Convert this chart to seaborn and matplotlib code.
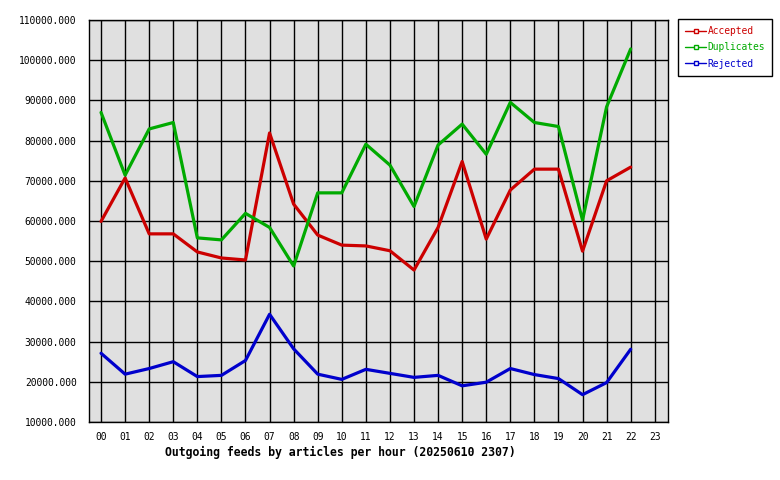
import pandas as pd
import matplotlib
matplotlib.use("Agg")
import matplotlib.pyplot as plt
from matplotlib.lines import Line2D
from matplotlib.ticker import MultipleLocator, FuncFormatter
import seaborn as sns

# data
hours = list(range(23))
hour_labels = [f"{h:02d}" for h in range(24)]
accepted = [59900, 70700, 56800, 56800, 52300, 50800, 50300, 81900, 64200, 56500,
            54000, 53800, 52600, 47800, 58400, 74800, 55500, 67700, 72900, 72900,
            52500, 70000, 73400]
duplicates = [87000, 71400, 82900, 84500, 55800, 55300, 61900, 58400, 48800, 67000,
              67000, 79100, 73900, 63600, 78900, 84100, 76600, 89500, 84500, 83500,
              60200, 88400, 102800]
rejected = [27100, 21900, 23300, 25000, 21300, 21600, 25300, 36800, 28200, 21900,
            20600, 23100, 22100, 21100, 21600, 19000, 19900, 23300, 21800, 20800,
            16800, 19800, 28100]
series_names = ["Accepted", "Duplicates", "Rejected"]
colors = {"Accepted": "#cc0000", "Duplicates": "#00aa00", "Rejected": "#0000cc"}

df = pd.DataFrame({"hour": hours, "Accepted": accepted,
                   "Duplicates": duplicates, "Rejected": rejected})
long_df = df.melt(id_vars="hour", var_name="series", value_name="articles")

sns.set_style("white")
plt.rcParams["font.family"] = ["DejaVu Sans Mono"]
plt.rcParams["text.color"] = "black"
plt.rcParams["xtick.color"] = "black"
plt.rcParams["ytick.color"] = "black"

fig = plt.figure(figsize=(7.8, 4.8), dpi=100)
ax = fig.add_axes([89 / 780, 58 / 480, 579 / 780, 402 / 480])
ax.set_facecolor("#e0e0e0")

sns.lineplot(data=long_df, x="hour", y="articles", hue="series",
             palette=colors, linewidth=2.3, legend=False, ax=ax, zorder=3)

ax.set_xlim(-0.5, 23.55)
ax.set_ylim(10000, 110000)
ax.set_xticks(range(24))
ax.set_xticklabels(hour_labels)
ax.yaxis.set_major_locator(MultipleLocator(10000))
ax.yaxis.set_major_formatter(FuncFormatter(lambda v, p: f"{v:.3f}"))
ax.grid(True, color="black", linewidth=1.0, zorder=1)
ax.set_axisbelow(True)
ax.tick_params(axis="y", length=3, width=1.2, labelsize=6.9, pad=6)
ax.tick_params(axis="x", length=0, labelsize=6.9, pad=7)
for s in ax.spines.values():
    s.set_color("black")
    s.set_linewidth(1.0)
ax.set_xlabel("")
ax.set_ylabel("")

fig.text(165 / 780, 1 - 452 / 480,
         "Outgoing feeds by articles per hour (20250610 2307)",
         ha="left", va="center", fontsize=8.3, fontweight="bold")

handles = [Line2D([0], [0], color=colors[n], linewidth=1, marker="s",
                  markersize=2.5, markerfacecolor="white") for n in series_names]
leg = fig.legend(handles, series_names, loc="upper left",
                 bbox_to_anchor=(678 / 780, 1 - 19 / 480), frameon=True,
                 fancybox=False, framealpha=1, edgecolor="black",
                 fontsize=6.9, handlelength=2.2, handletextpad=0.15,
                 borderpad=0.75, labelspacing=0.65, borderaxespad=0)
leg.get_frame().set_linewidth(1.0)
for txt, n in zip(leg.get_texts(), series_names):
    txt.set_color(colors[n])

fig.savefig("out.png", dpi=100)
